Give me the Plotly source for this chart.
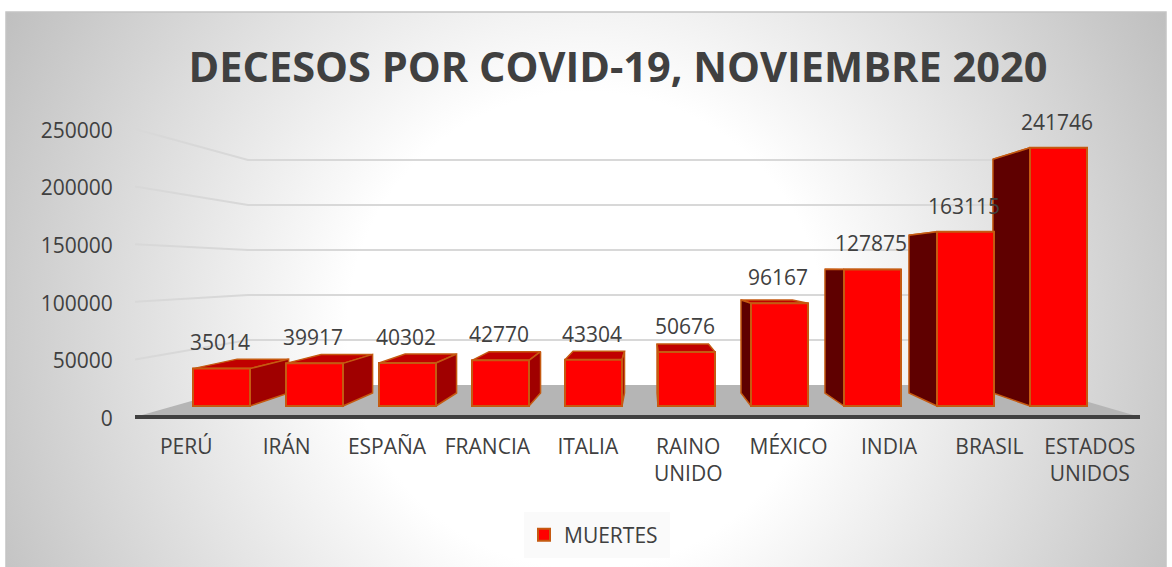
import base64
import plotly.graph_objects as go

# ---- data ----
categories = ["PERÚ", "IRÁN", "ESPAÑA", "FRANCIA", "ITALIA", "RAINO<br>UNIDO",
              "MÉXICO", "INDIA", "BRASIL", "ESTADOS<br>UNIDOS"]
deaths = [35014, 39917, 40302, 42770, 43304, 50676, 96167, 127875, 163115, 241746]
value_ticks = [0, 50000, 100000, 150000, 200000, 250000]
series_name = "MUERTES"
chart_title = "DECESOS POR COVID-19, NOVIEMBRE 2020"

# ---- look ----
W, H = 1172, 567
FONT = "Open Sans"
TEXT = "#404040"
EDGE = "#C55A11"
FRONT = "#FF0000"
TOP = "#C00000"
RIGHT_SIDE = "#A00000"
LEFT_SIDE = "#5F0000"
GRID = "#D8D8D8"
FLOOR = "#B5B5B5"

# ---- pseudo 3D projection, expressed on the scene axes ----
BAR_W = 0.613
STEP = 93.0            # pixels per category on the front plane
X0 = 221.5             # pixel of first category
FRONT_BASE, FRONT_K = 406.0, 1.068     # bar front plane
BACK_BASE, BACK_K = 393.0, 0.967       # bar back plane
WALL_BASE, WALL_K = 385.0, 0.900       # wall plane with gridlines
TICK_BASE, TICK_K = 417.0, 1.152       # axis plane with tick labels
VANISH = (648.0 - X0) / STEP           # vanishing x in category units
DEPTH = 0.903


def on_plane(v, base, k):
    """Value on a plane expressed in front-plane units."""
    return (FRONT_BASE - (base - v / 1000.0 * k)) / FRONT_K * 1000.0


def back_x(x):
    return VANISH + (x - VANISH) * DEPTH


def idx(px):
    return (px - X0) / STEP


WALL_LEFT, WALL_RIGHT = idx(248), idx(1030)
TICK_LEFT, TICK_RIGHT = idx(135), idx(1140)

fig = go.Figure()

# floor
fig.add_trace(go.Scatter(
    x=[TICK_LEFT, WALL_LEFT, WALL_RIGHT, TICK_RIGHT, TICK_LEFT],
    y=[on_plane(0, TICK_BASE, TICK_K), on_plane(0, WALL_BASE, WALL_K),
       on_plane(0, WALL_BASE, WALL_K), on_plane(0, TICK_BASE, TICK_K),
       on_plane(0, TICK_BASE, TICK_K)],
    mode="lines", fill="toself", fillcolor=FLOOR, line=dict(width=0),
    hoverinfo="skip", showlegend=False, zorder=-4))

# category axis line along the front of the floor
fig.add_trace(go.Scatter(
    x=[TICK_LEFT, TICK_RIGHT],
    y=[on_plane(0, TICK_BASE, TICK_K), on_plane(0, TICK_BASE, TICK_K)],
    mode="lines", line=dict(color=TEXT, width=4),
    hoverinfo="skip", showlegend=False, zorder=-3))

# gridlines on wall
for t in value_ticks[1:]:
    fig.add_trace(go.Scatter(
        x=[TICK_LEFT, WALL_LEFT, WALL_RIGHT],
        y=[on_plane(t, TICK_BASE, TICK_K), on_plane(t, WALL_BASE, WALL_K),
           on_plane(t, WALL_BASE, WALL_K)],
        mode="lines", line=dict(color=GRID, width=2),
        hoverinfo="skip", showlegend=False, zorder=-3))

# side and top faces
for i, v in enumerate(deaths):
    xl, xr = i - BAR_W / 2, i + BAR_W / 2
    yf = v
    yb = on_plane(v, BACK_BASE, BACK_K)
    bf = 0
    bb = on_plane(0, BACK_BASE, BACK_K)
    faces = [([xl, back_x(xl), back_x(xr), xr, xl], [yf, yb, yb, yf, yf], TOP)]
    if xr < VANISH:
        faces.append(([xr, back_x(xr), back_x(xr), xr, xr], [yf, yb, bb, bf, yf], RIGHT_SIDE))
    if xl > VANISH:
        faces.append(([xl, back_x(xl), back_x(xl), xl, xl], [yf, yb, bb, bf, yf], LEFT_SIDE))
    for fx, fy, col in faces:
        fig.add_trace(go.Scatter(
            x=fx, y=fy, mode="lines", fill="toself", fillcolor=col,
            line=dict(color=EDGE, width=1.5), hoverinfo="skip",
            showlegend=False, zorder=-2))

# front faces
fig.add_trace(go.Bar(
    x=list(range(len(deaths))), y=deaths, width=BAR_W, name=series_name,
    marker=dict(color=FRONT, line=dict(color=EDGE, width=2)), zorder=0,
    hovertext=[c.replace("<br>", " ") for c in categories], showlegend=True))

# value labels
LABEL_LIFT = 23.5 / FRONT_K * 1000
LABEL_SHIFT = -1.5 / STEP
fig.add_trace(go.Scatter(
    x=[i + LABEL_SHIFT for i in range(len(deaths))], y=[v + LABEL_LIFT for v in deaths],
    text=[str(v) for v in deaths], mode="text", textposition="middle center",
    textfont=dict(family=FONT, size=21, color=TEXT),
    hoverinfo="skip", showlegend=False, zorder=2))

# carrier of the labelled axes
fig.add_trace(go.Scatter(
    x=categories, y=deaths, xaxis="x2", yaxis="y2", mode="markers",
    marker=dict(opacity=0, size=1), hoverinfo="skip", showlegend=False))

# background
svg = f'''<svg xmlns="http://www.w3.org/2000/svg" width="{W}" height="{H}" viewBox="0 0 {W} {H}">
<defs><radialGradient id="g" gradientUnits="userSpaceOnUse" cx="586" cy="330" r="662">
<stop offset="0.36" stop-color="#FFFFFF"/><stop offset="1" stop-color="#BFBFBF"/></radialGradient></defs>
<rect x="6" y="12" width="1160" height="560" fill="url(#g)" stroke="#C4C4C4" stroke-width="1.5"/>
</svg>'''
bg_source = "data:image/svg+xml;base64," + base64.b64encode(svg.encode()).decode()

fig.update_layout(
    width=W, height=H, margin=dict(l=0, r=0, t=0, b=0, autoexpand=False), autosize=False,
    paper_bgcolor="white", plot_bgcolor="rgba(0,0,0,0)",
    font=dict(family=FONT, color=TEXT, size=21),
    title=dict(text=chart_title, x=618 / W, xref="paper", xanchor="center",
               y=1 - 67 / H, yref="paper", yanchor="middle",
               font=dict(family=FONT, size=41.5, color=TEXT, weight=700)),
    images=[dict(source=bg_source, xref="paper", yref="paper", x=0, y=1,
                 sizex=1, sizey=1, sizing="stretch", xanchor="left", yanchor="top",
                 layer="below")],
    shapes=[dict(type="rect", xref="paper", yref="paper", x0=524 / W, x1=670 / W,
                 y0=1 - 558 / H, y1=1 - 512 / H, fillcolor="#FAFAFA",
                 line=dict(width=0), layer="below")],
    legend=dict(x=524 / W, y=1 - 535 / H, xanchor="left", yanchor="middle",
                bgcolor="rgba(0,0,0,0)", font=dict(family=FONT, size=21, color=TEXT)),
    # scene axes, full page
    xaxis=dict(domain=[0, 1], range=[idx(0), idx(W)], visible=False, fixedrange=True),
    yaxis=dict(domain=[0, 1], visible=False, fixedrange=True,
               range=[(FRONT_BASE - H) / FRONT_K * 1000, FRONT_BASE / FRONT_K * 1000]),
    # labelled axes
    xaxis2=dict(domain=[136 / W, 1140 / W], anchor="y2", type="category",
                range=[-0.5, 9.5], showgrid=False, zeroline=False, showline=False,
                ticks="outside", ticklen=9, tickcolor="rgba(0,0,0,0)",
                tickfont=dict(family=FONT, size=21, color=TEXT), fixedrange=True),
    yaxis2=dict(domain=[1 - 418.5 / H, 1 - 130.5 / H], anchor="x2", range=[0, 250000],
                tickvals=value_ticks, ticktext=[str(t) for t in value_ticks],
                showgrid=False, zeroline=False, showline=False,
                ticks="outside", ticklen=18, tickcolor="rgba(0,0,0,0)",
                tickfont=dict(family=FONT, size=21, color=TEXT), fixedrange=True),
)

fig.write_html("out.html", config={"displayModeBar": False},
               post_script="document.body.style.margin='0';document.documentElement.style.overflow='hidden';")
